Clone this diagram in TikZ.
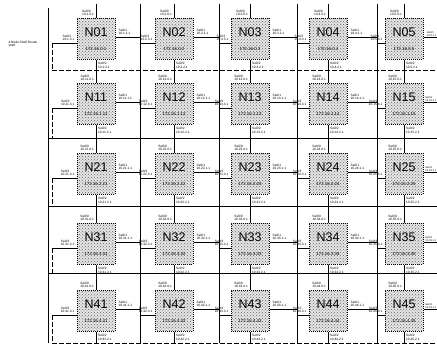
\documentclass[tikz,border=0pt]{standalone}
\usepackage{fontspec}
\setmainfont{Liberation Sans}
\usetikzlibrary{patterns}
\newcommand\namefont{\fontsize{12.5}{12.5}\selectfont}
\newcommand\ipfont{\fontsize{4.4}{5}\selectfont}

\begin{document}
\begin{tikzpicture}[x=1pt,y=-1pt,line width=0.6pt,
  box/.style={draw,densely dotted,line width=1pt,pattern=crosshatch dots,pattern color=black!60,
    preaction={fill=black!10},minimum width=38pt,minimum height=41pt,inner sep=0pt,align=center},
  tag/.style={font=\fontsize{3.2}{3.7}\selectfont,align=left,inner sep=0.4pt},
  bus/.style={dash pattern=on 5pt off 2pt}]
\useasboundingbox (0,0) rectangle (437,347);

% ---- grid
\coordinate (v0) at (52,0);  \coordinate (v1) at (140,0); \coordinate (v2) at (219,0);
\coordinate (v3) at (297,0); \coordinate (v4) at (377,0); \coordinate (v5) at (437,0);
\coordinate (h0) at (0,4);   \coordinate (h1) at (0,70);  \coordinate (h2) at (0,138);
\coordinate (h3) at (0,206); \coordinate (h4) at (0,273); \coordinate (h5) at (0,343);
\coordinate (top) at (48,8); \coordinate (bot) at (48,343);
\draw (top) -- (bot);
\foreach \k in {1,...,4} \draw (v\k |- h0) -- (v\k |- h5);
\draw[bus] (v0 |- h1) -- (v5 |- h1);
\foreach \k in {2,3,4} \draw (bot |- h\k) -- (v5 |- h\k);
\draw[bus] (v0 |- h5) -- (v5 |- h5);
\node[tag] (shelf) at (23,44) {4 Node Shelf Router\\shelf};

% ---- routers
\foreach \rw/\y in {0/39,1/104,2/174,3/244,4/311}
  \foreach \cl/\x in {1/96,2/174,3/250,4/328,5/404}{
    \pgfmathtruncatemacro\h{10*\rw+\cl}
    \pgfmathtruncatemacro\nr{\rw+1}
    \pgfmathtruncatemacro\pc{\cl-1}
    \node[box] (N\rw\cl) at (\x,\y) {{\namefont N\rw\cl}\\[1.5pt]{\ipfont 172.16.\rw.\h}};
    \coordinate (r\rw\cl) at ([yshift=2pt]N\rw\cl.east);
    \coordinate (l\rw\cl) at ([yshift=-4pt]N\rw\cl.west);
    \draw (N\rw\cl.north) -- (N\rw\cl.north |- h\rw);
    \draw (N\rw\cl.south) -- (N\rw\cl.south |- h\nr);
    \draw (r\rw\cl) -- (r\rw\cl -| v\cl);
    \draw (l\rw\cl) -- (l\rw\cl -| v\pc);
    \ifnum\cl=1 \draw[bus] (l\rw\cl -| v0) -- (v0 |- h\nr); \fi
    \node[tag,anchor=south east] (t\rw\cl) at ([xshift=-1.5pt,yshift=1.5pt]N\rw\cl.north) {Se0/0\\10.\h.0.1};
    \ifnum\cl=5
      \node[tag,anchor=south east,font=\fontsize{2.6}{3.2}\selectfont] (e\rw\cl) at (r\rw\cl -| v5) {Se0/1\\10.\h.1.1};
    \else
      \node[tag,anchor=south west] (e\rw\cl) at ([xshift=2.5pt,yshift=1.5pt]r\rw\cl) {Se0/1\\10.\h.1.1};
    \fi
    \node[tag,anchor=north west] (s\rw\cl) at ([xshift=1.5pt,yshift=-1.5pt]N\rw\cl.south) {Se0/2\\10.\h.2.1};
    \node[tag,anchor=south east] (w\rw\cl) at ([xshift=-1.5pt,yshift=1.5pt]l\rw\cl) {Se0/3\\10.\h.3.1};
  }
\end{tikzpicture}
\end{document}
